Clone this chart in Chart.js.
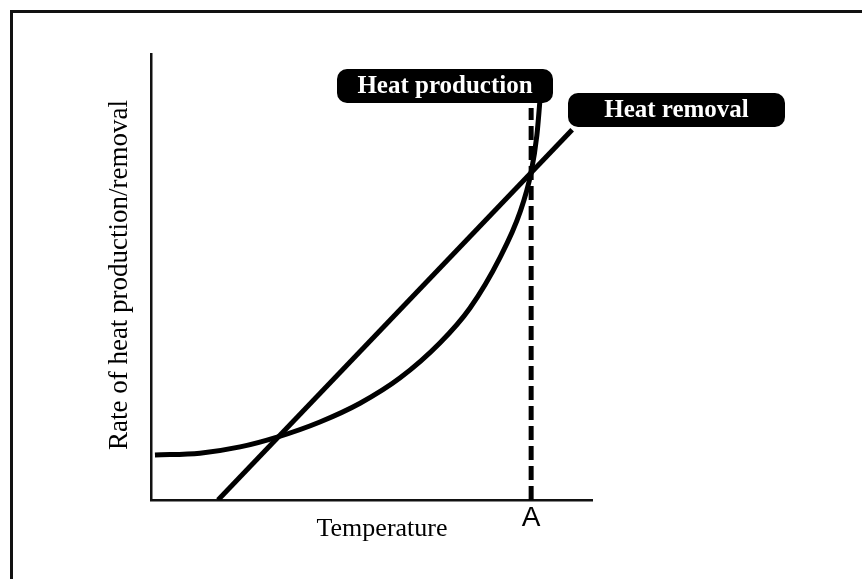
<!DOCTYPE html>
<html>
<head>
<meta charset="utf-8">
<script src="https://cdn.jsdelivr.net/npm/chart.js@4"></script>
<style>
  body { margin: 0; background: #fff; }
  #box { width: 862px; height: 579px; }
</style>
</head>
<body>
<div id="box"><canvas id="grafico" width="862" height="579"></canvas></div>
<script>
// valori (scala 0-100 su entrambi gli assi)
const produzioneX = [0.9, 11.1, 20.2, 28.6, 38.3, 47.4, 56.5, 65.5, 72.3, 79.1, 83.7, 86.2, 87.5, 88.2, 88.4];
const produzioneY = [10.1, 10.5, 11.9, 14.1, 17.5, 21.7, 27.4, 35.2, 43.0, 54.3, 64.6, 73.5, 81.8, 89.7, 92.4];
const rimozioneX = [15.2, 95.5];
const rimozioneY = [0, 83.0];
const puntoAX = [86.2, 86.2];
const puntoAY = [0, 87.9];

const etichette = ['Heat production', 'Heat removal'];
const titoloX = 'Temperature';
const titoloY = 'Rate of heat production/removal';
const etichettaA = 'A';

const punti = (xs, ys) => xs.map((x, i) => ({ x: x, y: ys[i] }));

// cornice, titoli e riquadri neri
const decorazioni = {
    id: 'decorazioni',
    afterDraw(chart) {
        const ctx = chart.ctx;
        ctx.save();
        ctx.strokeStyle = '#111';
        ctx.lineWidth = 3;
        ctx.strokeRect(11.5, 11.5, 900, 600);

        ctx.fillStyle = '#000';
        ctx.textAlign = 'center';
        ctx.textBaseline = 'alphabetic';
        ctx.font = '26px "Liberation Serif"';
        ctx.fillText(titoloX, 382, 536);

        ctx.save();
        ctx.translate(127, 275);
        ctx.rotate(-Math.PI / 2);
        ctx.font = '27px "Liberation Serif"';
        ctx.fillText(titoloY, 0, 0);
        ctx.restore();

        ctx.font = '28px "Liberation Sans"';
        ctx.fillText(etichettaA, chart.scales.x.getPixelForValue(puntoAX[0]), 526);

        const riquadro = (testo, x, y, w, h) => {
            ctx.fillStyle = '#000';
            ctx.beginPath();
            ctx.roundRect(x, y, w, h, 10);
            ctx.fill();
            ctx.fillStyle = '#fff';
            ctx.font = 'bold 25px "Liberation Serif"';
            ctx.textBaseline = 'middle';
            ctx.fillText(testo, x + w / 2, y + h / 2 + 1);
        };
        riquadro(etichette[0], 337, 69, 216, 34);
        riquadro(etichette[1], 568, 93, 217, 34);
        ctx.restore();
    }
};

const asse = {
    type: 'linear',
    min: 0,
    max: 100,
    ticks: { display: false },
    grid: { display: false, drawTicks: false },
    border: { display: true, color: '#111', width: 2.5 }
};

const grafico = new Chart(document.getElementById('grafico').getContext('2d'), {
    type: 'scatter',
    data: {
        datasets: [{
            label: etichette[1],
            data: punti(rimozioneX, rimozioneY),
            showLine: true,
            borderColor: '#000',
            borderWidth: 5,
            pointRadius: 0
        }, {
            label: etichette[0],
            data: punti(produzioneX, produzioneY),
            showLine: true,
            cubicInterpolationMode: 'monotone',
            borderColor: '#000',
            borderWidth: 5,
            pointRadius: 0
        }, {
            label: etichettaA,
            data: punti(puntoAX, puntoAY),
            showLine: true,
            clip: false,
            borderColor: '#000',
            borderWidth: 5,
            borderDash: [14, 6],
            pointRadius: 0
        }]
    },
    options: {
        responsive: false,
        animation: false,
        layout: { padding: { left: 151, right: 270, top: 54, bottom: 79 } },
        plugins: {
            legend: { display: false },
            tooltip: { enabled: false }
        },
        scales: {
            x: Object.assign({ position: 'bottom' }, asse),
            y: Object.assign({ position: 'left' }, asse)
        }
    },
    plugins: [decorazioni]
});
</script>
</body>
</html>
